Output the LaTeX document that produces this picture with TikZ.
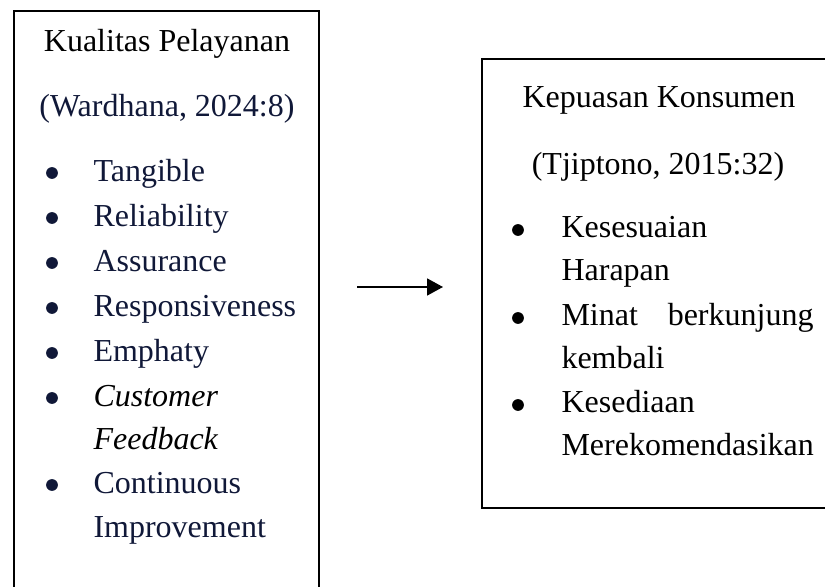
\documentclass[tikz,border=0pt]{standalone}
\usepackage{fontspec}
\setmainfont{Liberation Serif}
\usetikzlibrary{arrows.meta}
\definecolor{navytext}{RGB}{16,24,56}
\tikzset{
  frame/.style={draw, line width=1pt, inner sep=0pt},
  heading/.style={anchor=base, inner sep=0pt},
  dot/.style={circle, fill, inner sep=0pt, minimum size=4.4pt},
  item/.style={anchor=base west, inner sep=0pt},
  flow/.style={-{Triangle[length=6pt, width=6.4pt]}, line width=0.6pt},
}

\begin{document}
\begin{tikzpicture}[x=0.375pt, y=-0.375pt, font=\fontsize{12}{14}\selectfont]
    \path[use as bounding box, clip] (0,0) rectangle (825,587);
    % boxes
    \node[frame, minimum width=114.4pt, minimum height=228.4pt] (kualitas) at (166.5,315.5) {};
    \node[frame, minimum width=136.1pt, minimum height=168.4pt] (kepuasan) at (663.5,283.5) {};
    % left box
    \node[heading] (kualitastitle) at (167,52) {Kualitas Pelayanan};
    \node[heading, text=navytext] (wardhana) at (167,117) {(Wardhana, 2024:8)};
    \node[dot, navytext] (b1) at (52,173) {};
    \node[item, text=navytext] (tangible) at (93,182) {Tangible};
    \node[dot, navytext] (b2) at (52,218) {};
    \node[item, text=navytext] (reliability) at (93,227) {Reliability};
    \node[dot, navytext] (b3) at (52,263) {};
    \node[item, text=navytext] (assurance) at (93,272) {Assurance};
    \node[dot, navytext] (b4) at (52,308) {};
    \node[item, text=navytext] (responsiveness) at (93,317) {Responsiveness};
    \node[dot, navytext] (b5) at (52,353) {};
    \node[item, text=navytext] (emphaty) at (93,362) {Emphaty};
    \node[dot, navytext] (b6) at (52,398) {};
    \node[item, font=\fontsize{12}{14}\selectfont\itshape] (customer) at (93,407) {Customer};
    \node[item, font=\fontsize{12}{14}\selectfont\itshape] (feedback) at (93,450) {Feedback};
    \node[dot, navytext] (b7) at (52,485) {};
    \node[item, text=navytext] (continuous) at (93,494) {Continuous};
    \node[item, text=navytext] (improvement) at (93,538) {Improvement};
    % right box
    \node[heading] (kepuasantitle) at (659,108) {Kepuasan Konsumen};
    \node[heading] (tjiptono) at (658,175) {(Tjiptono, 2015:32)};
    \node[dot] (c1) at (518,230) {};
    \node[item] (kesesuaian) at (561,238) {Kesesuaian};
    \node[item] (harapan) at (561,281) {Harapan};
    \node[dot] (c2) at (518,318) {};
    \node[item, text width=94.5pt] (minat) at (561,326) {Minat\hfill berkunjung};
    \node[item] (kembali) at (561,369) {kembali};
    \node[dot] (c3) at (518,405) {};
    \node[item] (kesediaan) at (561,413) {Kesediaan};
    \node[item] (merekomendasikan) at (561,456) {Merekomendasikan};
    % arrow
    \coordinate (arrowstart) at (357,287);
    \coordinate (arrowend) at (443,287);
    \draw[flow] (arrowstart) -- (arrowend);
  \end{tikzpicture}
\end{document}
